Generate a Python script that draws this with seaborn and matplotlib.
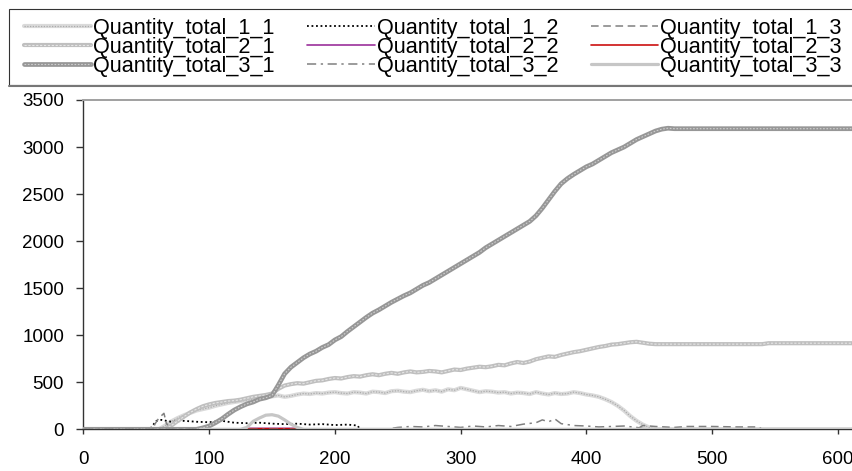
import matplotlib
matplotlib.use("Agg")
import matplotlib.pyplot as plt
import seaborn as sns
from matplotlib.legend_handler import HandlerTuple
from matplotlib.patches import Rectangle
from matplotlib.lines import Line2D

# ---------------- data ----------------
labels = ["Quantity_total_1_1", "Quantity_total_1_2", "Quantity_total_1_3",
          "Quantity_total_2_1", "Quantity_total_2_2", "Quantity_total_2_3",
          "Quantity_total_3_1", "Quantity_total_3_2", "Quantity_total_3_3"]

x_ticks = [0, 100, 200, 300, 400, 500, 600]
y_ticks = [0, 500, 1000, 1500, 2000, 2500, 3000, 3500]

t_1_1 = [0, 60, 65, 70, 75, 80, 85, 90, 95, 100, 105, 110, 115, 120, 125, 130, 135, 140, 145, 150,
         155, 160, 165, 170, 175, 180, 185, 190, 195, 200, 205, 210, 215, 220, 225, 230, 235, 240,
         245, 250, 255, 260, 265, 270, 275, 280, 285, 290, 295, 300, 305, 310, 315, 320, 325, 330,
         335, 340, 345, 350, 355, 360, 365, 370, 375, 380, 385, 390, 395, 400, 405, 410, 415, 420,
         425, 430, 435, 440, 445, 450, 455, 612]
v_1_1 = [0, 0, 40, 85, 120, 150, 175, 200, 215, 230, 250, 265, 280, 290, 300, 310, 320, 330, 340, 350,
         360, 345, 355, 370, 380, 375, 385, 380, 390, 395, 385, 380, 395, 390, 380, 400, 395, 385,
         405, 410, 400, 395, 410, 420, 405, 415, 400, 425, 415, 440, 425, 410, 395, 405, 400, 390,
         395, 380, 390, 385, 375, 395, 380, 370, 385, 375, 380, 395, 385, 370, 360, 345, 320, 290,
         250, 200, 140, 90, 50, 20, 0, 0]

t_1_2 = [0, 53, 55, 58, 62, 70, 80, 90, 100, 110, 120, 130, 140, 150, 160, 170, 180, 190, 200, 210, 218, 220, 612]
v_1_2 = [0, 0, 40, 90, 100, 80, 90, 80, 75, 90, 70, 65, 70, 60, 55, 60, 50, 55, 45, 50, 40, 0, 0]

t_1_3 = [0, 55, 57, 60, 64, 66, 70, 440, 445, 455, 470, 480, 500, 520, 537, 540, 612]
v_1_3 = [0, 0, 60, 120, 170, 60, 0, 0, 40, 30, 20, 30, 30, 25, 25, 0, 0]

t_2_1 = [0, 65, 70, 75, 80, 85, 90, 95, 100, 105, 110, 115, 120, 125, 130, 135, 140, 145, 150,
         155, 160, 165, 170, 175, 180, 185, 190, 195, 200, 205, 210, 215, 220, 225, 230, 235, 240,
         245, 250, 255, 260, 265, 270, 275, 280, 285, 290, 295, 300, 305, 310, 315, 320, 325, 330,
         335, 340, 345, 350, 355, 360, 365, 370, 375, 380, 385, 390, 395, 400, 405, 410, 415, 420,
         425, 430, 435, 440, 445, 450, 455, 460, 540, 545, 612]
v_2_1 = [0, 0, 40, 90, 135, 180, 215, 245, 265, 280, 290, 300, 305, 315, 330, 345, 355, 365, 380,
         430, 465, 480, 490, 485, 500, 515, 520, 535, 545, 540, 555, 565, 560, 575, 585, 575, 590,
         600, 590, 605, 615, 605, 610, 620, 615, 605, 620, 635, 630, 645, 655, 665, 660, 670, 685,
         680, 700, 715, 705, 720, 745, 760, 775, 770, 790, 805, 820, 830, 845, 860, 875, 885, 900,
         905, 915, 925, 930, 920, 910, 905, 905, 905, 915, 915]

t_2_2 = [0, 93, 127, 130, 170, 174, 612]
v_2_2 = [0, 0, 0, 10, 10, 0, 0]

t_2_3 = [0, 93, 127, 130, 170, 174, 612]
v_2_3 = [0, 0, 0, 6, 6, 0, 0]

t_3_1 = [0, 90, 95, 100, 105, 110, 115, 120, 125, 130, 135, 140, 145, 150, 155, 160, 165, 170,
         175, 180, 185, 190, 195, 200, 205, 210, 215, 220, 225, 230, 235, 240, 245, 250, 255, 260,
         265, 270, 275, 280, 285, 290, 295, 300, 305, 310, 315, 320, 325, 330, 335, 340, 345, 350,
         355, 360, 365, 370, 375, 380, 385, 390, 395, 400, 405, 410, 415, 420, 425, 430, 435, 440,
         445, 450, 455, 460, 465, 470, 612]
v_3_1 = [0, 0, 15, 35, 70, 110, 160, 205, 240, 270, 290, 320, 335, 360, 470, 590, 660, 710,
         760, 800, 830, 870, 900, 950, 985, 1040, 1090, 1140, 1190, 1235, 1270, 1310, 1350, 1385, 1420, 1450,
         1490, 1530, 1560, 1600, 1640, 1680, 1720, 1760, 1800, 1840, 1880, 1930, 1970, 2010, 2050, 2090, 2130, 2170,
         2210, 2270, 2350, 2440, 2530, 2610, 2665, 2710, 2750, 2790, 2820, 2860, 2900, 2940, 2970, 3000, 3040, 3080,
         3110, 3140, 3170, 3190, 3200, 3195, 3195]

t_3_2 = [0, 240, 250, 260, 270, 280, 290, 300, 310, 320, 330, 340, 350, 360, 365, 370, 375, 380,
         390, 400, 410, 420, 430, 440, 450, 612]
v_3_2 = [0, 0, 20, 30, 25, 40, 30, 20, 35, 25, 40, 30, 55, 70, 100, 80, 110, 60,
         40, 35, 25, 30, 35, 20, 0, 0]

t_3_3 = [93, 125, 130, 135, 140, 145, 150, 155, 160, 165, 170, 175, 612]
v_3_3 = [0, 0, 20, 85, 120, 150, 155, 140, 100, 55, 20, 0, 0]

series = [(t_1_1, v_1_1), (t_1_2, v_1_2), (t_1_3, v_1_3),
          (t_2_1, v_2_1), (t_2_2, v_2_2), (t_2_3, v_2_3),
          (t_3_1, v_3_1), (t_3_2, v_3_2), (t_3_3, v_3_3)]

# line layers per series: (colour, width, dash pattern)
layers = [
    [("#dadada", 3.0, "-"), ("#ababab", 0.9, (0, (1, 1.2)))],
    [("#000000", 1.3, (0, (1, 1.5)))],
    [("#808080", 1.1, (0, (5, 3)))],
    [("#bfbfbf", 3.0, "-"), ("#e6e6e6", 0.8, (0, (2, 1.5)))],
    [("#9b309b", 1.2, "-")],
    [("#cc1010", 1.2, "-")],
    [("#979797", 3.4, "-"), ("#cfcfcf", 0.8, (0, (1.5, 1.5)))],
    [("#808080", 1.1, (0, (6, 3, 1.5, 3)))],
    [("#c6c6c6", 2.3, "-")],
]

# ---------------- figure ----------------
sns.set_style("white")
plt.rcParams["font.family"] = ["Liberation Sans", "DejaVu Sans"]
plt.rcParams["text.color"] = "black"

W, H = 853, 471
fig = plt.figure(figsize=(W / 100, H / 100), dpi=100)
ax = fig.add_axes([83.5 / W, 1 - 429.3 / H, 1 - 83.5 / W, 329.3 / H])

handles = []
for (t, v), lay in zip(series, layers):
    parts = []
    for color, lw, ls in lay:
        sns.lineplot(x=t, y=v, ax=ax, legend=False, errorbar=None,
                     color=color, linewidth=lw, linestyle=ls, zorder=3)
        parts.append(ax.lines[-1])
    handles.append(tuple(parts) if len(parts) > 1 else parts[0])

ax.set_xlim(0, (W - 83.5) / 1.257)
ax.set_ylim(0, 3500)
ax.set_xticks(x_ticks)
ax.set_yticks(y_ticks)
ax.set_xlabel("")
ax.set_ylabel("")
ax.grid(False)

ax.spines["right"].set_visible(False)
ax.spines["left"].set_color("#333333")
ax.spines["left"].set_linewidth(1.0)
ax.spines["bottom"].set_color("#333333")
ax.spines["bottom"].set_linewidth(1.0)
ax.spines["top"].set_color("#a0a0a0")
ax.spines["top"].set_linewidth(1.4)

ax.tick_params(axis="y", direction="out", length=5, width=1, color="#333333",
               labelsize=13.5, labelcolor="black", pad=9, left=True)
ax.tick_params(axis="x", direction="out", length=3.6, width=1, color="#333333",
               labelsize=13.5, labelcolor="black", pad=12, bottom=True)

# legend: three columns filled row by row
order = [0, 3, 6, 1, 4, 7, 2, 5, 8]
leg = fig.legend([handles[i] for i in order], [labels[i] for i in order],
                 loc="upper left", bbox_to_anchor=(24 / W, 1 - 18 / H), ncol=3,
                 frameon=False, fontsize=15.6, handlelength=3.1, handletextpad=0.1,
                 columnspacing=1.5, labelspacing=-0.1, borderpad=0, borderaxespad=0,
                 handler_map={tuple: HandlerTuple(ndivide=1)})
for txt in leg.get_texts():
    txt.set_color("black")

fig.add_artist(Rectangle((9 / W, 1 - 85 / H), 2, 76 / H, transform=fig.transFigure,
                         fill=False, edgecolor="#333333", linewidth=0.8))
fig.add_artist(Line2D([9 / W, 1], [1 - 85.5 / H] * 2, transform=fig.transFigure,
                      color="#777777", linewidth=1.5))

fig.savefig("out.png", dpi=100)
